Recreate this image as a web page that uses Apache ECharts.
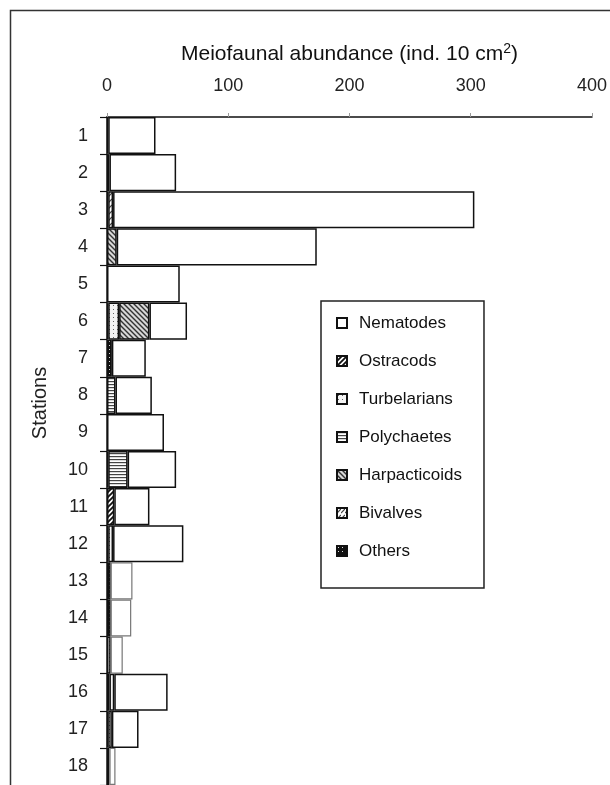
<!DOCTYPE html>
<html>
<head>
<meta charset="utf-8">
<script src="https://cdn.jsdelivr.net/npm/echarts@6/dist/echarts.min.js"></script>
<style>
  html, body { margin: 0; padding: 0; background: #fff; }
  #chart { width: 610px; height: 785px; }
</style>
</head>
<body>
<div id="chart"></div>
<script>
// Stations sampled along the transect
const stations = ['1','2','3','4','5','6','7','8','9','10','11','12','13','14','15','16','17','18'];

// Meiofaunal abundance per taxon (ind. 10 cm^-2)
const others        = [1, 2, 1, 0, 0, 1, 4, 0, 0, 1, 0, 1, 3, 3, 0, 2, 1, 0];
const turbelarians  = [0, 0, 0, 0, 0, 9, 0, 0, 0, 0, 0, 4, 0, 0, 3, 4, 3, 2];
const bivalves      = [0, 0, 4, 0, 0, 0, 0, 0, 0, 0, 0, 0, 0, 0, 0, 0, 0, 0];
const ostracods     = [0, 0, 0, 0, 0, 0, 0, 0, 0, 0, 6, 0, 0, 0, 0, 0, 0, 0];
const polychaetes   = [0, 0, 0, 0, 0, 0, 0, 7, 0, 16, 0, 0, 0, 0, 0, 0, 0, 0];
const harpacticoids = [0, 0, 0, 8, 0, 25, 0, 0, 0, 0, 0, 0, 0, 0, 0, 0, 0, 0];
const nematodes     = [39, 55, 298, 165, 60, 31, 28, 30, 47, 40, 29, 58, 18, 17, 10, 44, 22, 5];

const xTicks = [0, 100, 200, 300, 400];

const FONT = '"Liberation Sans", Arial, sans-serif';

// ---- fill patterns drawn on small tiles ----
function tile(w, h, draw) {
  const c = document.createElement('canvas');
  c.width = w; c.height = h;
  const g = c.getContext('2d');
  draw(g, w, h);
  return { image: c, repeat: 'repeat' };
}
const patWhite = '#ffffff';
const patOstracods = tile(5, 5, (g, w, h) => {
  g.fillStyle = '#fff'; g.fillRect(0, 0, w, h);
  g.strokeStyle = '#111'; g.lineWidth = 1.8;
  g.beginPath();
  g.moveTo(-1, h + 1); g.lineTo(w + 1, -1);
  g.moveTo(-1, 1); g.lineTo(1, -1);
  g.moveTo(w - 1, h + 1); g.lineTo(w + 1, h - 1);
  g.stroke();
});
const patTurbelarians = tile(4, 4, (g, w, h) => {
  g.fillStyle = '#f4f4f4'; g.fillRect(0, 0, w, h);
  g.fillStyle = '#666'; g.fillRect(1, 1, 1, 1);
});
const patPolychaetes = tile(4, 3, (g, w, h) => {
  g.fillStyle = '#fff'; g.fillRect(0, 0, w, h);
  g.fillStyle = '#444'; g.fillRect(0, 0, w, 1.2);
});
const patHarpacticoids = tile(5, 5, (g, w, h) => {
  g.fillStyle = '#d8d8d8'; g.fillRect(0, 0, w, h);
  g.strokeStyle = '#333'; g.lineWidth = 1.4;
  g.beginPath();
  g.moveTo(-1, -1); g.lineTo(w + 1, h + 1);
  g.moveTo(w - 1, -1); g.lineTo(w + 1, 1);
  g.moveTo(-1, h - 1); g.lineTo(1, h + 1);
  g.stroke();
});
const patBivalves = tile(4, 6, (g, w, h) => {
  g.fillStyle = '#fff'; g.fillRect(0, 0, w, h);
  g.strokeStyle = '#444'; g.lineWidth = 1.2;
  g.beginPath();
  g.moveTo(0, 5); g.lineTo(4, 1);
  g.stroke();
});
const patOthers = tile(4, 4, (g, w, h) => {
  g.fillStyle = '#111'; g.fillRect(0, 0, w, h);
  g.fillStyle = '#ddd'; g.fillRect(1, 1, 1, 1);
});

// Stations whose nematode box is outlined faintly
const faintStations = ['13', '14', '15', '18'];

function barSeries(name, values, fill) {
  return {
    name: name,
    type: 'bar',
    stack: 'total',
    barCategoryGap: '0%',
    itemStyle: { color: fill, borderColor: '#111', borderWidth: 1.5 },
    emphasis: { disabled: true },
    data: values.map((v, i) => {
      if (v === 0) return '-';
      if (name === 'Nematodes' && faintStations.indexOf(stations[i]) >= 0) {
        return { value: v, itemStyle: { borderColor: '#777', borderWidth: 1.2 } };
      }
      return v;
    })
  };
}

const chart = echarts.init(document.getElementById('chart'), null, { renderer: 'canvas' });

chart.setOption({
  animation: false,
  backgroundColor: '#fff',
  textStyle: { fontFamily: FONT },
  grid: { left: 107, top: 117, width: 487, height: 674 },
  xAxis: {
    type: 'value',
    position: 'top',
    min: xTicks[0],
    max: xTicks[xTicks.length - 1],
    interval: xTicks[1] - xTicks[0],
    name: 'Meiofaunal abundance (ind. 10 cm{sup|2})',
    nameLocation: 'middle',
    nameGap: 51,
    nameTextStyle: {
      fontSize: 21, color: '#111', fontFamily: FONT,
      rich: { sup: { fontSize: 14, color: '#111', fontFamily: FONT, padding: [0, 0, 10, 0] } }
    },
    axisLine: { show: true, onZero: false, lineStyle: { color: '#111', width: 1.5 } },
    axisTick: { show: true, length: 4, lineStyle: { color: '#999', width: 1 } },
    splitLine: { show: false },
    axisLabel: { fontSize: 18, color: '#222', margin: 22, fontFamily: FONT }
  },
  yAxis: {
    type: 'category',
    inverse: true,
    data: stations,
    axisLine: { show: true, lineStyle: { color: '#111', width: 1.5 } },
    axisTick: { show: true, length: 7, lineStyle: { color: '#111', width: 1.2 } },
    axisLabel: { fontSize: 18, color: '#222', margin: 19, fontFamily: FONT },
    splitLine: { show: false }
  },
  legend: {
    orient: 'vertical',
    left: 321,
    top: 301,
    padding: [12, 22, 27, 15],
    itemWidth: 10,
    itemHeight: 10,
    itemGap: 18,
    icon: 'rect',
    borderColor: '#222',
    borderWidth: 1.5,
    selectedMode: false,
    textStyle: { fontSize: 17, color: '#111', fontFamily: FONT, padding: [0, 0, 0, 7], lineHeight: 20 },
    data: ['Nematodes', 'Ostracods', 'Turbelarians', 'Polychaetes', 'Harpacticoids', 'Bivalves', 'Others']
  },
  graphic: [
    {
      type: 'rect', z: -10, silent: true,
      shape: { x: 10.5, y: 10.5, width: 700, height: 900 },
      style: { fill: 'none', stroke: '#333', lineWidth: 1.5 }
    },
    {
      type: 'text', silent: true,
      x: 40, y: 403, rotation: Math.PI / 2,
      style: { text: 'Stations', font: '20px ' + FONT, fill: '#222',
               textAlign: 'center', textVerticalAlign: 'middle' }
    }
  ],
  series: [
    barSeries('Others', others, patOthers),
    barSeries('Turbelarians', turbelarians, patTurbelarians),
    barSeries('Bivalves', bivalves, patBivalves),
    barSeries('Ostracods', ostracods, patOstracods),
    barSeries('Polychaetes', polychaetes, patPolychaetes),
    barSeries('Harpacticoids', harpacticoids, patHarpacticoids),
    barSeries('Nematodes', nematodes, patWhite)
  ]
});
</script>
</body>
</html>
